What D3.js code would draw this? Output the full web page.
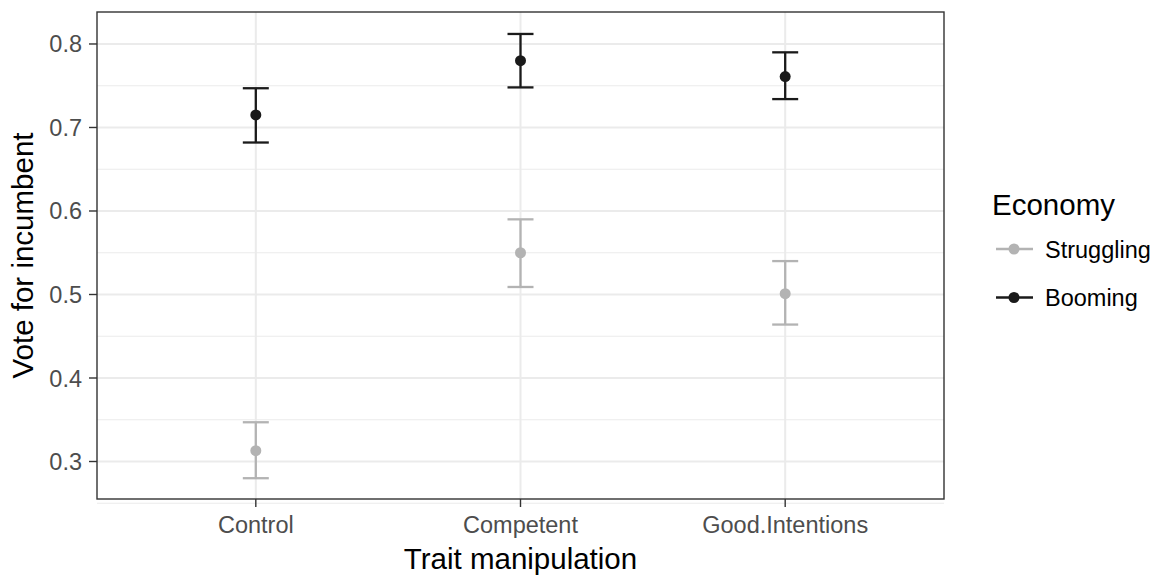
<!DOCTYPE html>
<meta charset="utf-8">
<style>
    body {
        margin: 0;
        padding: 0;
        background: #fff;
    }
    text {
        font-family: "Liberation Sans", Arial, sans-serif;
    }
    .tick-label {
        fill: #4d4d4d;
        font-size: 23.5px;
    }
    .axis-title {
        fill: #000;
        font-size: 29.5px;
    }
</style>
<body>
<script src="https://d3js.org/d3.v7.min.js"></script>
<script>
    // data
    var traits = ["Control", "Competent", "Good.Intentions"];
    var economies = ["Struggling", "Booming"];
    var struggling = [0.313, 0.550, 0.501];
    var strugglingLow = [0.280, 0.509, 0.464];
    var strugglingHigh = [0.347, 0.590, 0.540];
    var booming = [0.715, 0.780, 0.761];
    var boomingLow = [0.682, 0.748, 0.734];
    var boomingHigh = [0.747, 0.812, 0.790];
    var yTicks = [0.3, 0.4, 0.5, 0.6, 0.7, 0.8];
    var yMinor = [0.25, 0.35, 0.45, 0.55, 0.65, 0.75];

    var colors = {Struggling: "#b3b3b3", Booming: "#1a1a1a"};

    var width = 1159, height = 575;
    var panel = {left: 97, top: 12, right: 944, bottom: 499};

    var svg = d3.select("body")
        .append("svg")
        .attr("width", width)
        .attr("height", height);

    var x = d3.scalePoint()
        .domain(traits)
        .range([panel.left, panel.right])
        .padding(0.6);

    var y = d3.scaleLinear()
        .domain([0.2551, 0.8383])
        .range([panel.bottom, panel.top]);

    // grid
    var grid = svg.append("g");
    grid.selectAll(".minor")
        .data(yMinor)
        .enter().append("line")
        .attr("x1", panel.left).attr("x2", panel.right)
        .attr("y1", d => y(d)).attr("y2", d => y(d))
        .style("stroke", "#ebebeb").style("stroke-width", 1.2);
    grid.selectAll(".major")
        .data(yTicks)
        .enter().append("line")
        .attr("x1", panel.left).attr("x2", panel.right)
        .attr("y1", d => y(d)).attr("y2", d => y(d))
        .style("stroke", "#ebebeb").style("stroke-width", 2);
    grid.selectAll(".vmajor")
        .data(traits)
        .enter().append("line")
        .attr("x1", d => x(d)).attr("x2", d => x(d))
        .attr("y1", panel.top).attr("y2", panel.bottom)
        .style("stroke", "#ebebeb").style("stroke-width", 2);

    // series
    var series = [
        {name: "Struggling", mean: struggling, lo: strugglingLow, hi: strugglingHigh},
        {name: "Booming", mean: booming, lo: boomingLow, hi: boomingHigh}
    ];
    var rows = [];
    series.forEach(function(s) {
        traits.forEach(function(t, i) {
            rows.push({eco: s.name, trait: t, mean: s.mean[i], lo: s.lo[i], hi: s.hi[i]});
        });
    });

    var whisker = 13;
    var marks = svg.append("g")
        .selectAll("g")
        .data(rows)
        .enter().append("g")
        .style("stroke", d => colors[d.eco])
        .style("fill", d => colors[d.eco]);
    marks.append("line")
        .attr("x1", d => x(d.trait)).attr("x2", d => x(d.trait))
        .attr("y1", d => y(d.lo)).attr("y2", d => y(d.hi))
        .style("stroke-width", 2.3);
    marks.append("line")
        .attr("x1", d => x(d.trait) - whisker).attr("x2", d => x(d.trait) + whisker)
        .attr("y1", d => y(d.lo)).attr("y2", d => y(d.lo))
        .style("stroke-width", 2.3);
    marks.append("line")
        .attr("x1", d => x(d.trait) - whisker).attr("x2", d => x(d.trait) + whisker)
        .attr("y1", d => y(d.hi)).attr("y2", d => y(d.hi))
        .style("stroke-width", 2.3);
    marks.append("circle")
        .attr("cx", d => x(d.trait)).attr("cy", d => y(d.mean))
        .attr("r", 5.5)
        .style("stroke", "none");

    // panel border
    svg.append("rect")
        .attr("x", panel.left).attr("y", panel.top)
        .attr("width", panel.right - panel.left)
        .attr("height", panel.bottom - panel.top)
        .style("fill", "none").style("stroke", "#333").style("stroke-width", 1.4);

    // y axis
    var yAxis = svg.append("g");
    yAxis.selectAll("line")
        .data(yTicks)
        .enter().append("line")
        .attr("x1", panel.left - 8).attr("x2", panel.left)
        .attr("y1", d => y(d)).attr("y2", d => y(d))
        .style("stroke", "#333").style("stroke-width", 1.4);
    yAxis.selectAll("text")
        .data(yTicks)
        .enter().append("text")
        .attr("class", "tick-label")
        .attr("x", panel.left - 15)
        .attr("y", d => y(d) + 8.5)
        .attr("text-anchor", "end")
        .text(d3.format(".1f"));

    // x axis
    var xAxis = svg.append("g");
    xAxis.selectAll("line")
        .data(traits)
        .enter().append("line")
        .attr("x1", d => x(d)).attr("x2", d => x(d))
        .attr("y1", panel.bottom).attr("y2", panel.bottom + 8)
        .style("stroke", "#333").style("stroke-width", 1.4);
    xAxis.selectAll("text")
        .data(traits)
        .enter().append("text")
        .attr("class", "tick-label")
        .attr("x", d => x(d))
        .attr("y", 533)
        .attr("text-anchor", "middle")
        .text(d => d);

    // axis titles
    svg.append("text")
        .attr("class", "axis-title")
        .attr("x", (panel.left + panel.right) / 2)
        .attr("y", 569)
        .attr("text-anchor", "middle")
        .text("Trait manipulation");
    svg.append("text")
        .attr("class", "axis-title")
        .attr("transform", "translate(33," + ((panel.top + panel.bottom) / 2) + ") rotate(-90)")
        .attr("text-anchor", "middle")
        .text("Vote for incumbent");

    // legend
    var legend = svg.append("g").attr("transform", "translate(992,0)");
    legend.append("text")
        .attr("x", 0).attr("y", 215)
        .style("font-size", "29.5px")
        .text("Economy");
    var keys = legend.selectAll(".key")
        .data(economies)
        .enter().append("g")
        .attr("transform", (d, i) => "translate(0," + (249 + i * 48.5) + ")");
    keys.append("line")
        .attr("x1", 4).attr("x2", 41)
        .attr("y1", 0).attr("y2", 0)
        .style("stroke", d => colors[d]).style("stroke-width", 2.3);
    keys.append("circle")
        .attr("cx", 22).attr("cy", 0).attr("r", 5.5)
        .style("fill", d => colors[d]);
    keys.append("text")
        .attr("x", 53).attr("y", 8.5)
        .style("font-size", "23.5px")
        .style("fill", "#000")
        .text(d => d);
</script>
</body>
</html>
